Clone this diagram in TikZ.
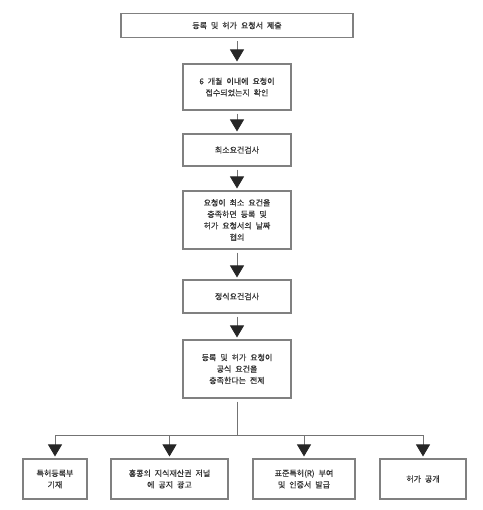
\documentclass[tikz,border=0pt]{standalone}
\usepackage{fontspec}
\newfontfamily\krfont[WordSpace=2.2, FakeBold=0.4]{Noto Sans CJK KR}
\usetikzlibrary{arrows.meta}

\begin{document}
\begin{tikzpicture}[
    x=1pt, y=-1pt,
    box/.style={rectangle, draw=black!50, line width=1.1pt, fill=white, align=center,
      inner sep=2pt, text=black!80, font=\krfont\fontsize{8}{11.5}\selectfont},
    flow/.style={draw=black!55, line width=0.8pt,
      -{Triangle[length=12pt, width=14pt, color=black!85]}},
    shorten <=3pt, shorten >=2pt
  ]
    \useasboundingbox (0,0) rectangle (482,510);
    \node[box, minimum width=232pt, minimum height=24pt] (submit) at (237, 25.5) {등록 및 허가 요청서 제출};
    \node[box, minimum width=108pt, minimum height=46pt] (within) at (237, 87) {6 개월 이내에 요청이\\접수되었는지 확인};
    \node[box, minimum width=108pt, minimum height=32pt] (mincheck) at (237, 150) {최소요건검사};
    \node[box, minimum width=108pt, minimum height=58pt] (filing) at (237, 220) {요청이 최소 요건을\\충족하면 등록 및\\허가 요청서의 날짜\\협의};
    \node[box, minimum width=108pt, minimum height=33pt] (formcheck) at (237, 296.5) {정식요건검사};
    \node[box, minimum width=108pt, minimum height=58pt] (premise) at (237, 369) {등록 및 허가 요청이\\공식 요건을\\충족한다는 전제};
    \coordinate (split) at (237, 435);

    \node[box, minimum width=64pt, minimum height=40pt] (register) at (55, 479) {특허등록부\\기재};
    \node[box, minimum width=117pt, minimum height=40pt] (journal) at (169.5, 479) {홍콩의 지식재산권 저널\\에 공지 광고};
    \node[box, minimum width=102pt, minimum height=40pt] (grant) at (304, 479) {표준특허(R) 부여\\및 인증서 발급};
    \node[box, minimum width=86pt, minimum height=40pt] (publish) at (423, 479) {허가 공개};

    \draw[flow] (submit) -- (within);
    \draw[flow] (within) -- (mincheck);
    \draw[flow] (mincheck) -- (filing);
    \draw[flow] (filing) -- (formcheck);
    \draw[flow] (formcheck) -- (premise);
    \draw[draw=black!55, line width=0.8pt, shorten >=0pt] (premise) -- (split);
    \draw[flow, shorten <=0pt] (split) -| (register);
    \draw[flow, shorten <=0pt] (split) -| (journal);
    \draw[flow, shorten <=0pt] (split) -| (grant);
    \draw[flow, shorten <=0pt] (split) -| (publish);
  \end{tikzpicture}
\end{document}
